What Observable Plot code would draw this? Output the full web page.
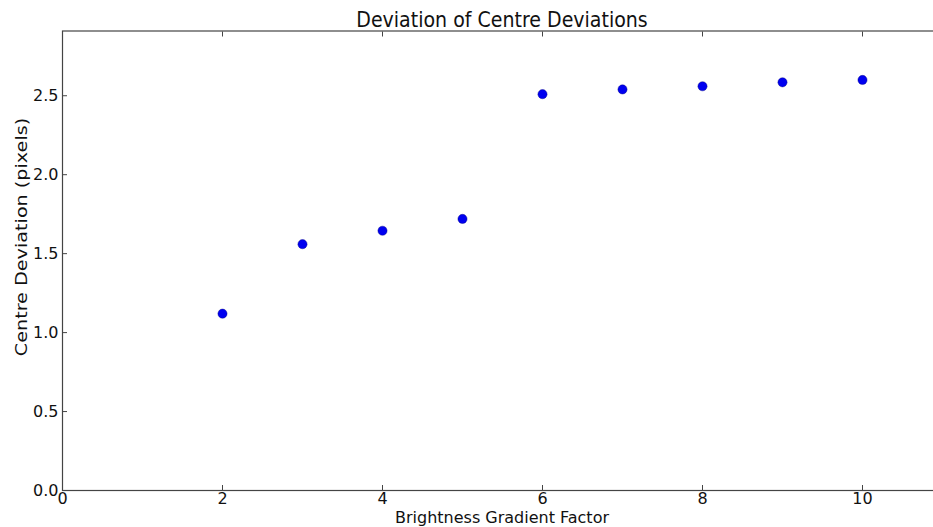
<!DOCTYPE html>
<html>
<head>
<meta charset="utf-8">
<script src="https://cdn.jsdelivr.net/npm/d3@7"></script>
<script src="https://cdn.jsdelivr.net/npm/@observablehq/plot@0.6"></script>
<style>
  html, body { margin: 0; padding: 0; background: #fff; }
  #chart svg { display: block; font-family: "DejaVu Sans", sans-serif; }
</style>
</head>
<body>
<div id="chart"></div>
<script>
// Brightness gradient factor vs. centre deviation (pixels)
const factors = [2, 3, 4, 5, 6, 7, 8, 9, 10];
const deviations = [1.12, 1.56, 1.645, 1.72, 2.51, 2.54, 2.56, 2.585, 2.60];
const xTicks = [0, 2, 4, 6, 8, 10];
const yTicks = [0.0, 0.5, 1.0, 1.5, 2.0, 2.5];

const data = factors.map((f, i) => ({factor: f, deviation: deviations[i]}));

const W = 933, H = 527;
const axisColor = "#444";

const chart = Plot.plot({
  width: W,
  height: H,
  marginLeft: 62,
  marginRight: -9,
  marginTop: 30.5,
  marginBottom: 37,
  style: {fontSize: "16px", fontFamily: "'DejaVu Sans', sans-serif", color: "#111", background: "#fff"},
  x: {domain: [0, 11]},
  y: {domain: [0, 2.91]},
  marks: [
    Plot.frame({stroke: axisColor, strokeWidth: 1.2}),
    Plot.axisX(xTicks, {anchor: "bottom", tickSize: -5, tickPadding: 7, tickFormat: d => String(d), stroke: axisColor, label: null, fill: "#111"}),
    Plot.axisX(xTicks, {anchor: "top", tickSize: -5, tickFormat: () => "", stroke: axisColor, label: null}),
    Plot.axisY(yTicks, {anchor: "left", tickSize: -5, tickPadding: 9, tickFormat: d3.format(".1f"), stroke: axisColor, label: null, fill: "#111"}),
    Plot.dot(data, {x: "factor", y: "deviation", r: 4.6, fill: "#0000f0", stroke: "#00007a", strokeWidth: 0.4})
  ]
});

// Title and axis labels, placed in the SVG's own coordinates
const svg = d3.select(chart);
svg.append("text")
  .attr("transform", "translate(502,27) scale(1,1.08)")
  .attr("text-anchor", "middle")
  .attr("font-size", 19)
  .attr("fill", "#111")
  .text("Deviation of Centre Deviations");
svg.append("text")
  .attr("x", 502).attr("y", 523)
  .attr("text-anchor", "middle")
  .attr("font-size", 16)
  .attr("fill", "#111")
  .text("Brightness Gradient Factor");
// the vertical label runs a little longer than the horizontal text
svg.append("text")
  .attr("transform", "translate(27,237) rotate(-90) scale(1.2,1)")
  .attr("text-anchor", "middle")
  .attr("font-size", 16)
  .attr("fill", "#111")
  .text("Centre Deviation (pixels)");

document.getElementById("chart").appendChild(chart);
</script>
</body>
</html>
